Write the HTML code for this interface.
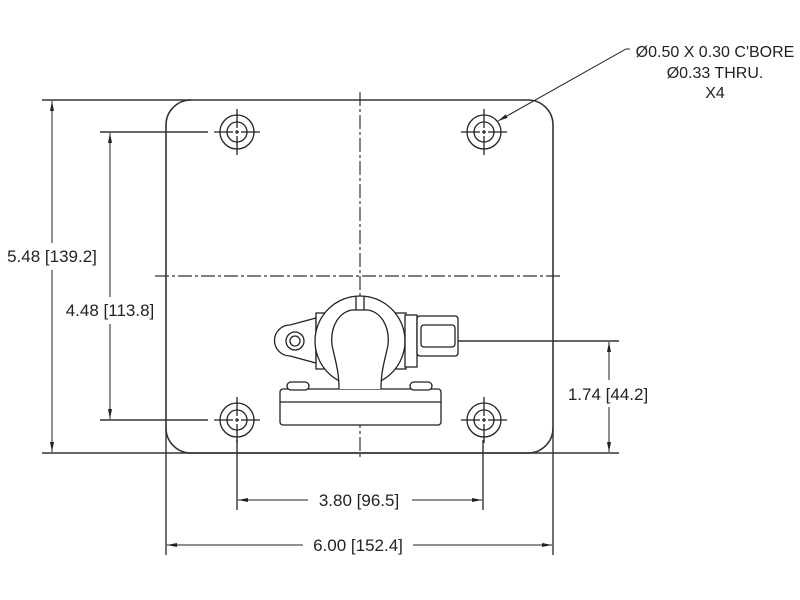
<!DOCTYPE html>
<html><head><meta charset="utf-8"><style>
html,body{margin:0;padding:0;background:#fff;}
svg{display:block;}
text{font-family:"Liberation Sans",sans-serif;font-size:17px;fill:#222;}
</style></head><body>
<svg width="800" height="600" viewBox="0 0 800 600" xmlns="http://www.w3.org/2000/svg">
<defs>
<marker id="a" viewBox="0 0 10 4" refX="10" refY="2" markerWidth="10" markerHeight="4" orient="auto-start-reverse" markerUnits="userSpaceOnUse"><path d="M0,0 L10,2 L0,4z" fill="#222"/></marker>
</defs>
<g stroke="#333" fill="none" stroke-width="1.4">
<path d="M191,100 H528 A25,25 0 0 1 553,125 V428 A25,25 0 0 1 528,453 H191 A25,25 0 0 1 166,428 V125 A25,25 0 0 1 191,100 Z" stroke-width="1.6"/>
<line x1="42" y1="100" x2="191" y2="100"/>
<line x1="42" y1="453" x2="619" y2="453"/>
<line x1="100" y1="132" x2="208" y2="132"/>
<line x1="100" y1="420" x2="208" y2="420"/>
<line x1="166" y1="428" x2="166" y2="555"/>
<line x1="553" y1="428" x2="553" y2="555"/>
<line x1="237" y1="440" x2="237" y2="510"/>
<line x1="483" y1="440" x2="483" y2="510"/>
<line x1="450" y1="341" x2="619" y2="341"/>
</g>
<g stroke="#222" stroke-width="1" fill="none">
<line x1="52" y1="101" x2="52" y2="243" marker-start="url(#a)"/>
<line x1="52" y1="270" x2="52" y2="452" marker-end="url(#a)"/>
<line x1="110" y1="133" x2="110" y2="297" marker-start="url(#a)"/>
<line x1="110" y1="324" x2="110" y2="419" marker-end="url(#a)"/>
<line x1="609" y1="342" x2="609" y2="380" marker-start="url(#a)"/>
<line x1="609" y1="407" x2="609" y2="452" marker-end="url(#a)"/>
<line x1="238" y1="500" x2="308" y2="500" marker-start="url(#a)"/>
<line x1="412" y1="500" x2="482" y2="500" marker-end="url(#a)"/>
<line x1="167" y1="545" x2="303" y2="545" marker-start="url(#a)"/>
<line x1="413" y1="545" x2="552" y2="545" marker-end="url(#a)"/>
<polyline points="630,49 626,49 498,121" marker-end="url(#a)"/>
</g>
<g stroke="#333" stroke-width="1.2" stroke-dasharray="14,3,3,3" fill="none">
<line x1="360" y1="92" x2="360" y2="460"/>
<line x1="155" y1="276" x2="562" y2="276"/>
<line x1="310" y1="340" x2="420" y2="340"/>
</g>
<g stroke="#222" stroke-width="1.3" fill="none">
<g id="h">
<circle cx="237" cy="132" r="17"/><circle cx="237" cy="132" r="10"/>
<line x1="214" y1="132" x2="260" y2="132" stroke-dasharray="19,2,4,2,19"/>
<line x1="237" y1="109" x2="237" y2="155" stroke-dasharray="19,2,4,2,19"/>
</g>
<use href="#h" x="247"/>
<use href="#h" y="288"/>
<use href="#h" x="247" y="288"/>
</g>
<g stroke="#222" stroke-width="1.3" fill="#fff">
<rect x="280" y="389" width="161" height="36" rx="3"/>
<line x1="280" y1="402" x2="441" y2="402"/>
<rect x="287" y="382" width="22" height="8" rx="4"/>
<rect x="410" y="382" width="22" height="8" rx="4"/>
<path d="M316,318 L290,325 A15,15 0 0 0 290,356 L316,363 Z"/>
<circle cx="295" cy="341" r="9"/><circle cx="295" cy="341" r="5"/>
<rect x="316" y="313" width="90" height="56"/>
<circle cx="360" cy="341" r="45"/>
<path d="M339,389 C339,370 335,360 332,345 C330,325 340,312 352,310 L368,310 C380,312 390,325 388,345 C385,360 381,370 381,389" />
<line x1="356" y1="296" x2="356" y2="310"/><line x1="364" y1="296" x2="364" y2="310"/>
<rect x="405" y="315" width="12" height="52"/>
<rect x="417" y="316" width="41" height="40" rx="3"/>
<rect x="421" y="325" width="34" height="22" rx="3"/>
</g>
<text x="52" y="262" text-anchor="middle">5.48 [139.2]</text>
<text x="110" y="316" text-anchor="middle">4.48 [113.8]</text>
<text x="608" y="400" text-anchor="middle">1.74 [44.2]</text>
<text x="359" y="506" text-anchor="middle">3.80 [96.5]</text>
<text x="358" y="551" text-anchor="middle">6.00 [152.4]</text>
<text x="715" y="57" text-anchor="middle" style="font-size:16px">Ø0.50 X 0.30 C'BORE</text>
<text x="715" y="78" text-anchor="middle" style="font-size:16px">Ø0.33 THRU.</text>
<text x="715" y="98" text-anchor="middle" style="font-size:16px">X4</text>
</svg>
</body></html>
